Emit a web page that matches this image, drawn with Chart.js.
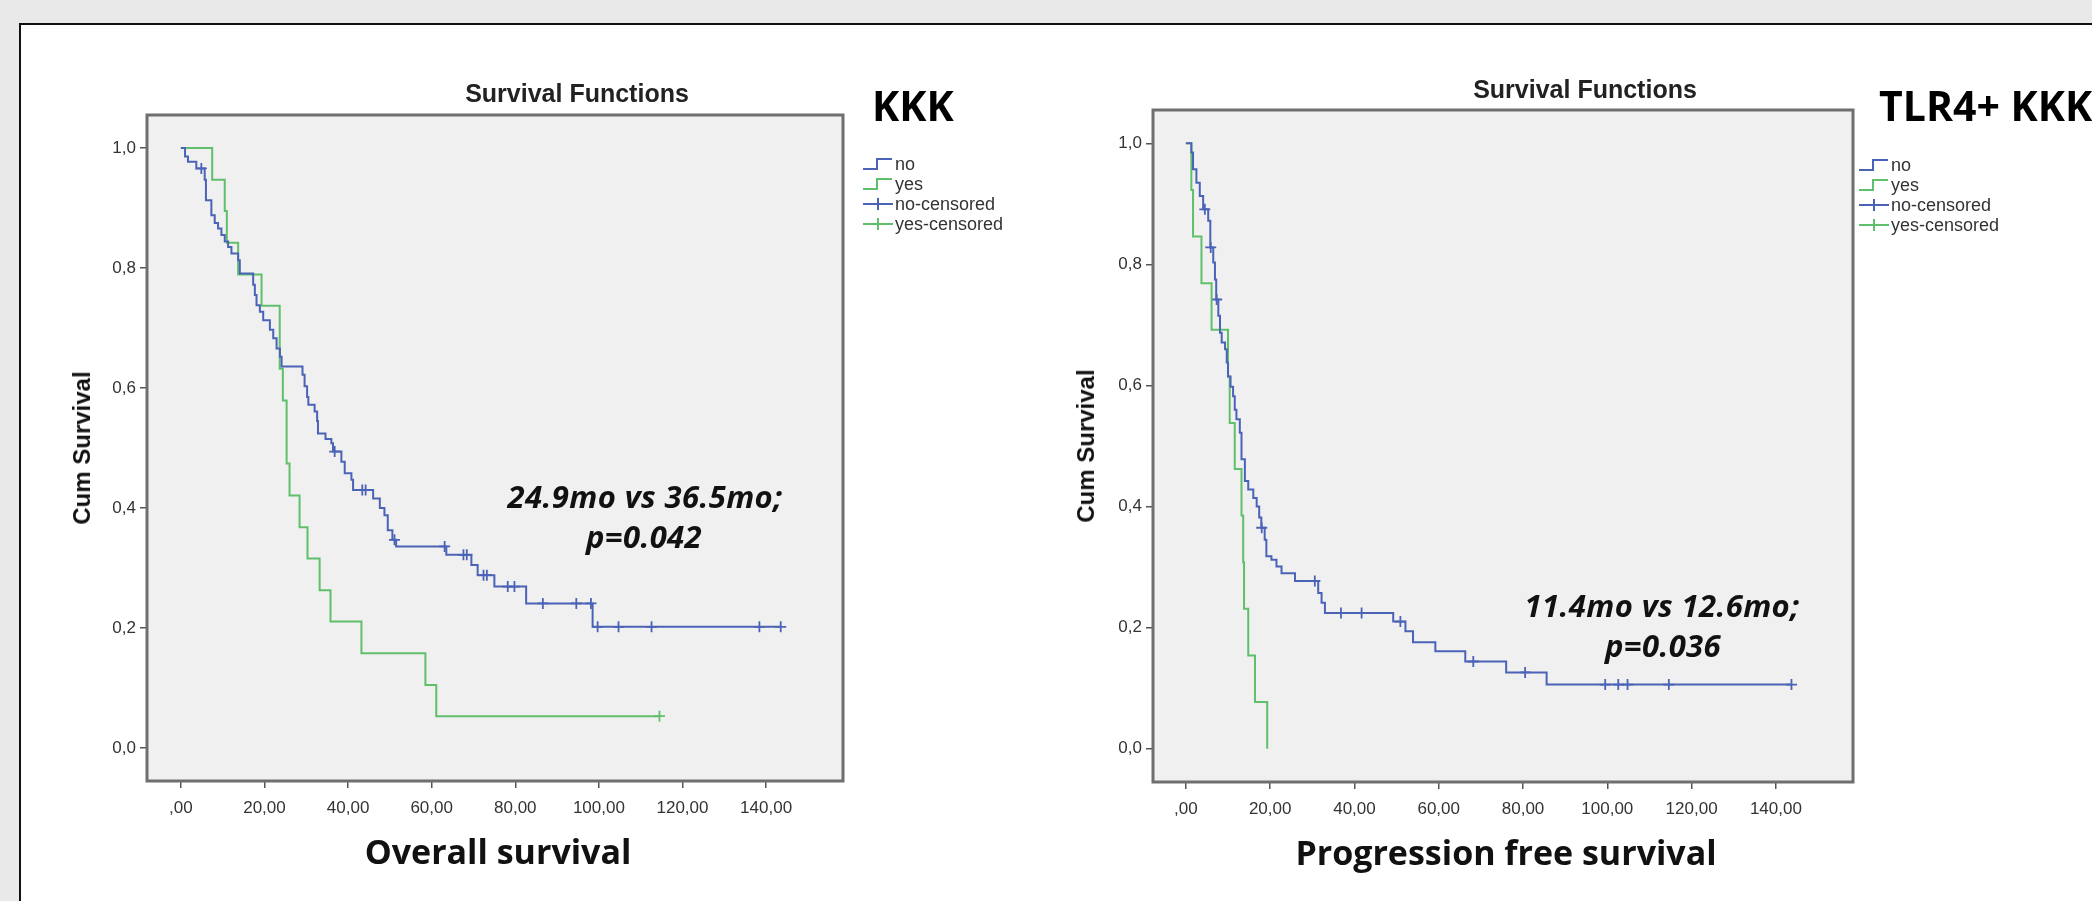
<!DOCTYPE html>
<html>
<head>
<meta charset="utf-8">
<script src="https://cdn.jsdelivr.net/npm/chart.js@4.4.1/dist/chart.umd.min.js"></script>
<style>
    html, body { margin: 0; padding: 0; }
    body { width: 2092px; height: 901px; position: relative; overflow: hidden; background: #e9e9e9; font-family: 'Liberation Sans', Arial, sans-serif; }
    #panel { position: absolute; left: 19px; top: 23px; width: 2073px; height: 878px; background: #fff; border-left: 2px solid #111; border-top: 2px solid #111; box-sizing: border-box; }
    canvas { position: absolute; top: 0; }
    .t { position: absolute; white-space: nowrap; line-height: 1; transform: translate(-50%, -50%); }
    .title { font: bold 25px 'Liberation Sans', Arial, sans-serif; color: #222; }
    .tag { position: absolute; white-space: nowrap; line-height: 1; transform: translateY(-50%); font: 700 41px 'Open Sans', sans-serif; color: #000; }
    .ylab { font: bold 24px 'Liberation Sans', Arial, sans-serif; color: #111; transform: translate(-50%, -50%) rotate(-90deg); }
    .note { font: italic 700 31px 'Open Sans', sans-serif; color: #111; letter-spacing: 0.4px; }
    .xlab { font: 700 34px 'Open Sans', sans-serif; color: #111; }
    .legend { position: absolute; font: 18px 'Liberation Sans', Arial, sans-serif; color: #333; }
    .legend div { height: 20px; display: flex; align-items: center; }
    .legend svg { width: 34px; height: 20px; flex: none; }
</style>
</head>
<body>
<div id="panel"></div>
<canvas id="osChart" width="1046" height="901" style="left:0"></canvas>
<canvas id="pfsChart" width="1046" height="901" style="left:1046px"></canvas>

<div class="t title" style="left:577px; top:93px">Survival Functions</div>
<div class="tag" style="left:872px; top:105px">KKK</div>
<div class="legend" id="osLegend" style="left:861px; top:154px"></div>
<div class="t ylab" style="left:82px; top:448px">Cum Survival</div>
<div class="t note" style="left:645px; top:496px">24.9mo vs 36.5mo;</div>
<div class="t note" style="left:644px; top:536px">p=0.042</div>
<div class="t xlab" style="left:498px; top:851px">Overall survival</div>

<div class="t title" style="left:1585px; top:89px">Survival Functions</div>
<div class="tag" style="left:1879px; top:105px">TLR4+ KKK</div>
<div class="legend" id="pfsLegend" style="left:1857px; top:155px"></div>
<div class="t ylab" style="left:1086px; top:446px">Cum Survival</div>
<div class="t note" style="left:1662px; top:605px">11.4mo vs 12.6mo;</div>
<div class="t note" style="left:1663px; top:645px">p=0.036</div>
<div class="t xlab" style="left:1506px; top:852px">Progression free survival</div>

<script>
const BLUE = '#4b63b6';
const GREEN = '#5fc06b';

const xTickValues = [0, 20, 40, 60, 80, 100, 120, 140];
const xTickLabels = [',00', '20,00', '40,00', '60,00', '80,00', '100,00', '120,00', '140,00'];
const yTickValues = [0, 0.2, 0.4, 0.6, 0.8, 1.0];
const yTickLabels = ['0,0', '0,2', '0,4', '0,6', '0,8', '1,0'];
const legendLabels = ['no', 'yes', 'no-censored', 'yes-censored'];

// overall survival, "no" group
const osNoTime = [0, 1.0, 1.7, 3.7, 5.7, 6.0, 7.3, 8.1, 8.9, 9.7, 10.5, 11.3, 12.1, 13.7, 14.1, 17.3, 17.7, 18.1, 18.9, 19.7,
    21.3, 22.1, 22.9, 23.7, 24.1, 29.1, 29.6, 30.2, 30.5, 32.0, 32.6, 32.8, 34.6, 36.0, 36.4, 38.4, 39.2, 40.8, 41.2, 46.0,
    47.6, 48.7, 49.5, 50.6, 51.5, 63.5, 69.5, 71.0, 75.0, 82.6, 98.5, 143.5];
const osNoSurv = [1, 0.986, 0.977, 0.966, 0.947, 0.913, 0.888, 0.875, 0.866, 0.855, 0.844, 0.835, 0.824, 0.813, 0.791, 0.772, 0.755, 0.738, 0.727, 0.713,
    0.697, 0.683, 0.666, 0.652, 0.636, 0.622, 0.603, 0.585, 0.572, 0.561, 0.545, 0.524, 0.515, 0.508, 0.494, 0.477, 0.458, 0.447, 0.430, 0.416,
    0.400, 0.388, 0.363, 0.347, 0.336, 0.322, 0.305, 0.288, 0.269, 0.241, 0.202, 0.202];
const osNoCensTime = [4.9, 36.8, 43.4, 44.2, 51.1, 63.1, 67.6, 68.4, 72.4, 73.2, 78.2, 79.8, 86.6, 94.6, 98.1, 99.7, 104.7, 112.6, 138.4, 143.5];
const osNoCensSurv = [0.966, 0.494, 0.430, 0.430, 0.347, 0.336, 0.322, 0.322, 0.288, 0.288, 0.269, 0.269, 0.241, 0.241, 0.241, 0.202, 0.202, 0.202, 0.202, 0.202];

// overall survival, "yes" group
const osYesTime = [0, 7.5, 10.5, 11.0, 13.7, 19.3, 23.65, 24.4, 25.3, 26.0, 28.4, 30.3, 33.2, 35.8, 43.2, 58.5, 61.1, 114.5];
const osYesSurv = [1, 0.947, 0.895, 0.842, 0.789, 0.737, 0.632, 0.579, 0.474, 0.421, 0.368, 0.316, 0.263, 0.211, 0.158, 0.105, 0.053, 0.053];
const osYesCensTime = [114.5];
const osYesCensSurv = [0.053];

// progression free survival, "no" group
const pfsNoTime = [0, 1.3, 1.7, 2.5, 3.3, 4.1, 5.3, 5.8, 6.5, 6.9, 7.2, 7.7, 8.1, 8.5, 9.3, 9.7, 10.0, 10.6, 11.2, 11.6,
    12.0, 12.8, 13.2, 14.0, 14.8, 16.0, 16.8, 17.4, 17.9, 18.7, 19.1, 20.3, 21.5, 22.7, 25.9, 31.4, 32.2, 33.0, 49.2, 52.1,
    53.9, 59.2, 66.3, 76.0, 85.6, 143.7];
const pfsNoSurv = [1, 0.985, 0.957, 0.935, 0.913, 0.891, 0.872, 0.828, 0.803, 0.775, 0.742, 0.715, 0.687, 0.671, 0.660, 0.638, 0.615, 0.598, 0.582, 0.560,
    0.544, 0.522, 0.478, 0.442, 0.428, 0.414, 0.400, 0.382, 0.365, 0.345, 0.318, 0.312, 0.301, 0.290, 0.277, 0.257, 0.241, 0.224, 0.210, 0.194,
    0.176, 0.161, 0.144, 0.126, 0.106, 0.106];
const pfsNoCensTime = [4.5, 5.9, 7.3, 18.0, 30.6, 36.8, 41.7, 50.9, 68.2, 80.5, 99.5, 102.6, 104.8, 114.6, 143.7];
const pfsNoCensSurv = [0.891, 0.828, 0.742, 0.365, 0.277, 0.224, 0.224, 0.210, 0.144, 0.126, 0.106, 0.106, 0.106, 0.106, 0.106];

// progression free survival, "yes" group
const pfsYesTime = [0, 1.3, 1.7, 3.7, 6.1, 10.0, 10.4, 11.6, 13.2, 13.6, 13.8, 14.8, 16.4, 19.3];
const pfsYesSurv = [1, 0.923, 0.846, 0.769, 0.692, 0.615, 0.538, 0.462, 0.385, 0.308, 0.231, 0.154, 0.077, 0];
const pfsYesCensTime = [];
const pfsYesCensSurv = [];

function toPoints(xs, ys) {
    return xs.map(function(x, i) {
        return { x: x, y: ys[i] };
    });
}

const plotFrame = {
    id: 'plotFrame',
    beforeDatasetsDraw: function(chart) {
        const a = chart.chartArea;
        const ctx = chart.ctx;
        ctx.save();
        ctx.fillStyle = '#f0f0f0';
        ctx.fillRect(a.left, a.top, a.right - a.left, a.bottom - a.top);
        ctx.restore();
    },
    afterDraw: function(chart) {
        const a = chart.chartArea;
        const ctx = chart.ctx;
        ctx.save();
        ctx.strokeStyle = '#6f6f6f';
        ctx.lineWidth = 3;
        ctx.strokeRect(a.left, a.top, a.right - a.left, a.bottom - a.top);
        ctx.restore();
    }
};

function stepSet(label, data, color) {
    return {
        label: label,
        data: data,
        borderColor: color,
        backgroundColor: color,
        borderWidth: 2,
        stepped: 'before',
        pointRadius: 0,
        fill: false
    };
}

function censorSet(label, data, color) {
    return {
        type: 'scatter',
        label: label,
        data: data,
        borderColor: color,
        backgroundColor: color,
        borderWidth: 1.8,
        pointStyle: 'cross',
        pointRadius: 5.5,
        showLine: false
    };
}

function createSurvivalChart(canvas, sets, pad, xRange, yRange) {
    const tickFont = { family: "'Liberation Sans', Arial, sans-serif", size: 17 };

    return new Chart(canvas, {
        type: 'line',
        data: {
            datasets: [
                stepSet(legendLabels[0], sets.no, BLUE),
                stepSet(legendLabels[1], sets.yes, GREEN),
                censorSet(legendLabels[2], sets.noCens, BLUE),
                censorSet(legendLabels[3], sets.yesCens, GREEN)
            ]
        },
        options: {
            responsive: false,
            animation: false,
            devicePixelRatio: 1,
            events: [],
            layout: {
                padding: pad
            },
            plugins: {
                legend: { display: false },
                tooltip: { enabled: false }
            },
            scales: {
                x: {
                    type: 'linear',
                    min: xRange[0],
                    max: xRange[1],
                    afterFit: function(scale) { scale.height = 40; },
                    afterBuildTicks: function(axis) {
                        axis.ticks = xTickValues.map(function(v) { return { value: v }; });
                    },
                    border: { display: false },
                    grid: {
                        drawOnChartArea: false,
                        drawTicks: true,
                        tickLength: 7,
                        color: '#555',
                        lineWidth: 1.5
                    },
                    ticks: {
                        autoSkip: false,
                        maxRotation: 0,
                        padding: 10,
                        color: '#333',
                        font: tickFont,
                        callback: function(value, index) { return xTickLabels[index]; }
                    }
                },
                y: {
                    type: 'linear',
                    min: yRange[0],
                    max: yRange[1],
                    afterFit: function(scale) { scale.width = 60; },
                    afterBuildTicks: function(axis) {
                        axis.ticks = yTickValues.map(function(v) { return { value: v }; });
                    },
                    border: { display: false },
                    grid: {
                        drawOnChartArea: false,
                        drawTicks: true,
                        tickLength: 7,
                        color: '#555',
                        lineWidth: 1.5
                    },
                    ticks: {
                        autoSkip: false,
                        padding: 4,
                        color: '#333',
                        font: tickFont,
                        callback: function(value, index) { return yTickLabels[index]; }
                    }
                }
            }
        },
        plugins: [plotFrame]
    });
}

function buildLegend(id) {
    const box = document.getElementById(id);
    const colors = [BLUE, GREEN, BLUE, GREEN];
    legendLabels.forEach(function(label, i) {
        const row = document.createElement('div');
        const shape = i < 2
            ? '<path d="M2 15 H16 V5 H31" fill="none" stroke="' + colors[i] + '" stroke-width="2"/>'
            : '<path d="M2 10 H32 M17 4 V16" fill="none" stroke="' + colors[i] + '" stroke-width="2"/>';
        row.innerHTML = '<svg viewBox="0 0 34 20">' + shape + '</svg><span>' + label + '</span>';
        box.appendChild(row);
    });
}

createSurvivalChart(document.getElementById('osChart'), {
    no: toPoints(osNoTime, osNoSurv),
    yes: toPoints(osYesTime, osYesSurv),
    noCens: toPoints(osNoCensTime, osNoCensSurv),
    yesCens: toPoints(osYesCensTime, osYesCensSurv)
}, { left: 87, top: 115, right: 203, bottom: 80 }, [-8.1, 158.4], [-0.055, 1.055]);

createSurvivalChart(document.getElementById('pfsChart'), {
    no: toPoints(pfsNoTime, pfsNoSurv),
    yes: toPoints(pfsYesTime, pfsYesSurv),
    noCens: toPoints(pfsNoCensTime, pfsNoCensSurv),
    yesCens: toPoints(pfsYesCensTime, pfsYesCensSurv)
}, { left: 47, top: 110, right: 239, bottom: 79 }, [-7.8, 158.3], [-0.055, 1.055]);

buildLegend('osLegend');
buildLegend('pfsLegend');
</script>
</body>
</html>
